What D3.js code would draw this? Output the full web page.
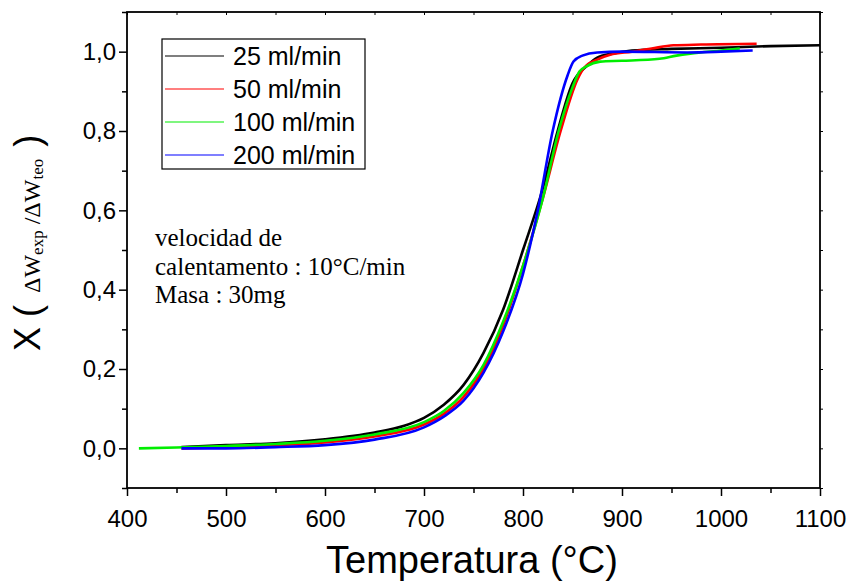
<!DOCTYPE html>
<html><head><meta charset="utf-8">
<script src="https://cdn.jsdelivr.net/npm/d3@7"></script>
<style>body{margin:0;background:#fff}svg{display:block}</style>
</head><body>
<script>
const xTicks = [400,500,600,700,800,900,1000,1100];
const yTicks = [0,0.2,0.4,0.6,0.8,1.0];
const seriesNames = ["25 ml/min","50 ml/min","100 ml/min","200 ml/min"];
const seriesColors = ["#000000","#ff0000","#00ee00","#0000ff"];
const t25 = [455,500,550,600,650,680,700,720,740,760,780,800,820,835,850,865,875,890,910,950,1000,1050,1100];
const x25 = [0.003,0.008,0.013,0.023,0.04,0.057,0.077,0.11,0.16,0.24,0.35,0.50,0.655,0.80,0.92,0.965,0.985,0.995,1.003,1.007,1.01,1.014,1.016];
const t50 = [455,500,550,600,650,700,720,740,760,780,800,820,838,855,862,875,888,910,930,952,980,1036];
const x50 = [0.0,0.003,0.008,0.015,0.03,0.06,0.087,0.13,0.20,0.31,0.46,0.63,0.80,0.93,0.96,0.98,0.992,1.0,1.008,1.016,1.018,1.02];
const t100 = [412,450,500,550,600,650,700,720,740,760,780,800,820,836,850,857,864,878,900,938,955,969,1000,1019];
const x100 = [0,0.002,0.006,0.011,0.019,0.035,0.066,0.094,0.14,0.21,0.32,0.46,0.63,0.80,0.91,0.95,0.963,0.975,0.977,0.982,0.99,0.995,1.003,1.008];
const t200 = [455,500,550,600,650,700,720,740,760,780,800,815,830,845,851,860,875,900,966,1000,1032];
const x200 = [0.0,0.0,0.003,0.008,0.022,0.053,0.08,0.12,0.19,0.295,0.44,0.60,0.80,0.94,0.975,0.99,0.998,1.0,0.998,1.0,1.003];
const seriesT = [t25,t50,t100,t200];
const seriesX = [x25,x50,x100,x200];

const W=854,H=581, L=127,R=820,T=12,B=488;
const svg=d3.select("body").append("svg").attr("width",W).attr("height",H);
const x=d3.scaleLinear().domain([400,1100]).range([L,R]);
const y=d3.scaleLinear().domain([-0.1,1.1]).range([B,T]);
const fmt=d=>d3.format(".1f")(d).replace(".",",");

const line=d3.line().x(d=>x(d[0])).y(d=>y(d[1])).curve(d3.curveMonotoneX);
seriesT.forEach((ts,i)=>{
  const data=ts.map((t,j)=>[t,seriesX[i][j]]);
  svg.append("path").datum(data).attr("d",line).attr("fill","none")
    .attr("stroke",seriesColors[i]).attr("stroke-width",2.6).attr("stroke-linejoin","round");
});

const font="Liberation Sans, Arial, sans-serif";
const minorX=d3.range(450,1100,100), minorY=d3.range(-0.1,1.1,0.2).map(v=>+v.toFixed(1));
const gx=svg.append("g").attr("transform",`translate(0,${B})`)
  .call(d3.axisBottom(x).tickValues(xTicks).tickSize(8).tickPadding(8).tickFormat(d3.format("d")));
const gy=svg.append("g").attr("transform",`translate(${L},0)`)
  .call(d3.axisLeft(y).tickValues(yTicks).tickSize(8).tickPadding(3).tickFormat(fmt));
[gx,gy].forEach(g=>{g.select(".domain").remove();g.selectAll("line").attr("stroke","#000").attr("stroke-width",1.5);
  g.selectAll("text").attr("font-family",font).attr("font-size",24).attr("fill","#000");});
gx.selectAll("text").attr("dy","0.95em");
svg.append("g").attr("transform",`translate(0,${B})`).call(d3.axisBottom(x).tickValues(minorX).tickSize(5).tickFormat(""))
  .call(g=>{g.select(".domain").remove();g.selectAll("line").attr("stroke","#000").attr("stroke-width",1.5);});
svg.append("g").attr("transform",`translate(${L},0)`).call(d3.axisLeft(y).tickValues(minorY).tickSize(5).tickFormat(""))
  .call(g=>{g.select(".domain").remove();g.selectAll("line").attr("stroke","#000").attr("stroke-width",1.5);});
svg.append("g").attr("transform",`translate(0,${T})`).call(d3.axisBottom(x).tickValues(xTicks.concat(minorX)).tickSize(3).tickFormat(""))
  .call(g=>{g.select(".domain").remove();g.selectAll("line").attr("stroke","#000").attr("stroke-width",1);});
svg.append("g").attr("transform",`translate(${R},0)`).call(d3.axisRight(y).tickValues(yTicks.concat(minorY)).tickSize(3).tickFormat(""))
  .call(g=>{g.select(".domain").remove();g.selectAll("line").attr("stroke","#000").attr("stroke-width",1);});
svg.append("rect").attr("x",L).attr("y",T).attr("width",R-L).attr("height",B-T)
  .attr("fill","none").attr("stroke","#000").attr("stroke-width",1.8);

svg.append("text").attr("x",472).attr("y",573).attr("text-anchor","middle")
  .attr("font-family",font).attr("font-size",38).text("Temperatura (°C)");
const tm="Liberation Serif, Times New Roman, serif";
const yt=svg.append("text").attr("transform","translate(40,351) rotate(-90)")
  .attr("font-family",font).attr("font-size",36);
yt.append("tspan").text("X (");
yt.append("tspan").attr("dx",12).attr("font-family",tm).attr("font-size",24).text("ΔW");
yt.append("tspan").attr("font-family",tm).attr("font-size",17).attr("dy",3).text("exp");
yt.append("tspan").attr("font-family",tm).attr("font-size",24).attr("dy",-3).text(" /ΔW");
yt.append("tspan").attr("font-family",tm).attr("font-size",17).attr("dy",3).text("teo");
yt.append("tspan").attr("dy",-3).attr("dx",12).text(")");

const ann=["velocidad de","calentamento : 10°C/min","Masa : 30mg"];
ann.forEach((s,i)=>svg.append("text").attr("x",155).attr("y",246+i*28.5)
  .attr("font-family",tm).attr("font-size",25).text(s));

const lg=svg.append("g");
lg.append("rect").attr("x",162).attr("y",39).attr("width",203).attr("height",130)
  .attr("fill","#fff").attr("stroke","#000").attr("stroke-width",1.2);
seriesNames.forEach((n,i)=>{
  const yy=56+i*33;
  lg.append("line").attr("x1",165).attr("x2",224).attr("y1",yy).attr("y2",yy).attr("stroke",seriesColors[i]).attr("stroke-width",1.2);
  lg.append("text").attr("x",233).attr("y",yy+9).attr("font-family",font).attr("font-size",25).text(n);
});
</script>
</body></html>
